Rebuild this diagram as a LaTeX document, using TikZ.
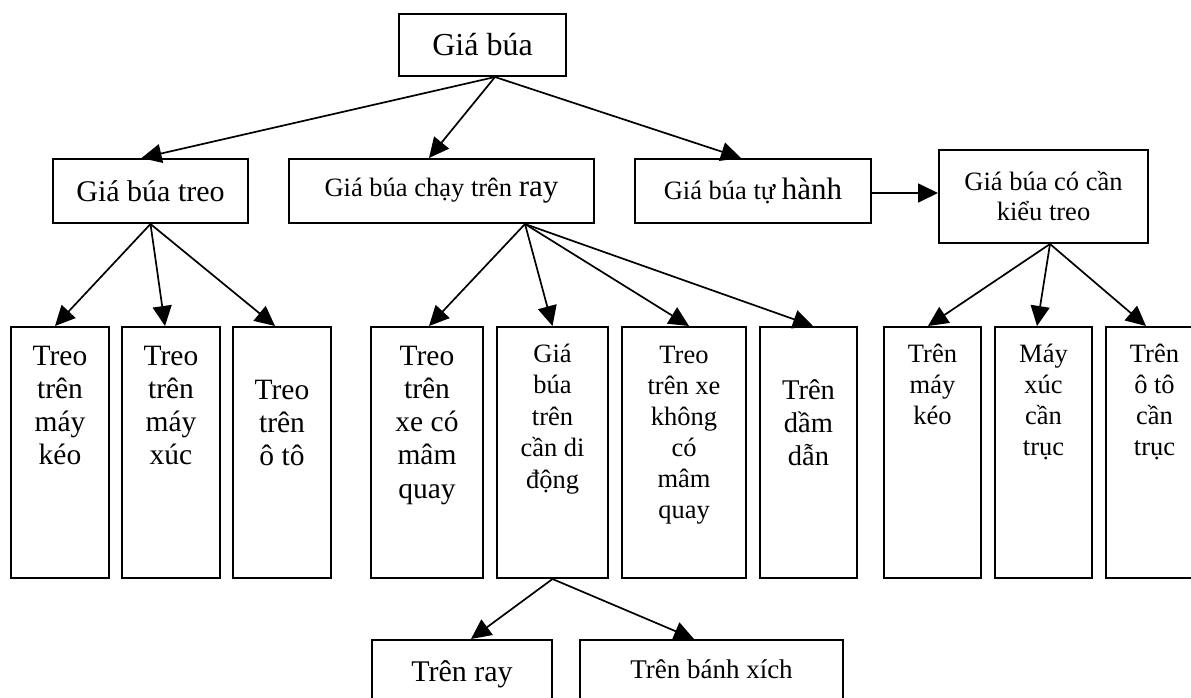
\documentclass[tikz,border=0pt]{standalone}
\usepackage{fontspec}
\setmainfont{Liberation Serif}
\usetikzlibrary{arrows.meta}

% top-aligned text column of a fixed size: width, height, font size, line skip, text
\newcommand\colbody[5]{\parbox[t][#2][t]{#1}{\centering\fontsize{#3}{#4}\selectfont#5}}

\begin{document}
\begin{tikzpicture}[x=1pt,y=-1pt,
  box/.style={draw, line width=2pt, inner sep=0pt, anchor=north west},
  link/.style={line width=1.7pt, -{Triangle[length=20pt,width=19pt]}}]
\useasboundingbox (0,0) rectangle (1191,697);
\fill[white] (0,0) rectangle (1191,697);
\clip (0,0) rectangle (1191,697);

% root and first level
\node[box, minimum width=167pt, minimum height=62pt, font=\fontsize{32}{38}\selectfont] (root) at (398,13) {Giá búa};
\node[box, minimum width=195pt, minimum height=64pt, font=\fontsize{30}{36}\selectfont] (treo) at (52,158) {Giá búa treo};
\node[box, minimum width=305pt, minimum height=64pt, font=\fontsize{26.5}{32}\selectfont] (ray) at (288,158) {Giá búa chạy trên {\fontsize{31}{36}\selectfont ray}};
\node[box, minimum width=236pt, minimum height=64pt, font=\fontsize{26.5}{32}\selectfont] (tuhanh) at (634,158) {Giá búa tự {\fontsize{31}{36}\selectfont hành}};
\node[box, minimum width=209pt, minimum height=93pt, align=center, font=\fontsize{26.5}{30}\selectfont] (cancau) at (938,149) {Giá búa có cần\\kiểu treo};

% second level columns
\node[box] (b1) at (10,326) {\colbody{98pt}{251pt}{29.5}{33.3}{\rule{0pt}{38pt}Treo\\trên\\máy\\kéo}};
\node[box] (b2) at (121,326) {\colbody{98pt}{251pt}{29.5}{33.3}{\rule{0pt}{38pt}Treo\\trên\\máy\\xúc}};
\node[box] (b3) at (232,326) {\colbody{98pt}{251pt}{29.5}{33.3}{\rule{0pt}{72pt}Treo\\trên\\ô tô}};
\node[box] (b4) at (370,326) {\colbody{112pt}{251pt}{29.5}{33.3}{\rule{0pt}{38pt}Treo\\trên\\xe có\\mâm\\quay}};
\node[box] (b5) at (496,326) {\colbody{111pt}{251pt}{26.5}{31.5}{\rule{0pt}{35pt}Giá\\búa\\trên\\cần di\\động}};
\node[box] (b6) at (621,326) {\colbody{124pt}{251pt}{26.5}{31}{\rule{0pt}{36pt}Treo\\trên xe\\không\\có\\mâm\\quay}};
\node[box] (b7) at (759,326) {\colbody{97pt}{251pt}{28.5}{33}{\rule{0pt}{72pt}Trên\\dầm\\dẫn}};
\node[box] (b8) at (883,326) {\colbody{97pt}{251pt}{26.5}{31}{\rule{0pt}{35pt}Trên\\máy\\kéo}};
\node[box] (b9) at (994,326) {\colbody{97pt}{251pt}{26.5}{31}{\rule{0pt}{35pt}Máy\\xúc\\cần\\trục}};
\node[box] (b10) at (1105,326) {\colbody{97pt}{251pt}{26.5}{31}{\rule{0pt}{35pt}Trên\\ô tô\\cần\\trục}};

% third level
\node[box] (r) at (371,639) {\colbody{180pt}{80pt}{30}{36}{\rule{0pt}{41pt}Trên ray}};
\node[box] (x) at (579,639) {\colbody{263pt}{80pt}{27}{32}{\rule{0pt}{38pt}Trên bánh xích}};

% connectors
\draw[link] ([xshift=12.5pt]root.south) -- ([xshift=-9pt]treo.north);
\draw[link] ([xshift=12.5pt]root.south) -- ([xshift=-12.5pt]ray.north);
\draw[link] ([xshift=12.5pt]root.south) -- ([xshift=-12pt]tuhanh.north);
\draw[link] ([yshift=-2pt]tuhanh.east) -- ([yshift=-2pt]tuhanh.east -| cancau.west);

\draw[link] (treo.south) -- ([xshift=-5pt]b1.north);
\draw[link] (treo.south) -- ([xshift=-6pt]b2.north);
\draw[link] (treo.south) -- ([xshift=-7pt]b3.north);

\draw[link] ([xshift=83.5pt]ray.south) -- ([xshift=2pt]b4.north);
\draw[link] ([xshift=83.5pt]ray.south) -- (b5.north);
\draw[link] ([xshift=83.5pt]ray.south) -- ([xshift=5pt]b6.north);
\draw[link] ([xshift=83.5pt]ray.south) -- ([xshift=4.5pt]b7.north);

\draw[link] ([xshift=6.5pt]cancau.south) -- ([xshift=-4.5pt]b8.north);
\draw[link] ([xshift=6.5pt]cancau.south) -- ([xshift=-6.5pt]b9.north);
\draw[link] ([xshift=6.5pt]cancau.south) -- ([xshift=-8.5pt]b10.north);

\draw[link] (b5.south) -- ([xshift=9pt]r.north);
\draw[link] (b5.south) -- ([xshift=-17.5pt]x.north);
\end{tikzpicture}
\end{document}
